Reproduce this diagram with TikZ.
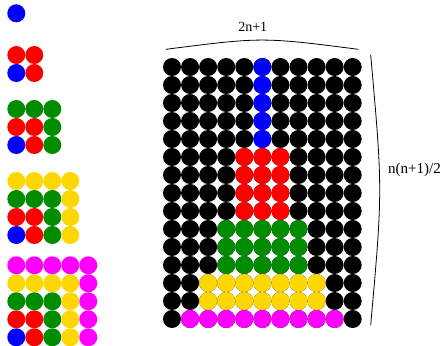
\documentclass[tikz,border=0pt]{standalone}
\usepackage{fontspec}
\setmainfont{Liberation Serif}
\usetikzlibrary{calc}
\definecolor{bead1}{RGB}{0,0,255}
\definecolor{bead2}{RGB}{255,0,0}
\definecolor{bead3}{RGB}{0,140,0}
\definecolor{bead4}{RGB}{255,215,0}
\definecolor{bead5}{RGB}{255,0,255}

\begin{document}
\begin{tikzpicture}[x=1pt,y=-1pt,line cap=round,
  lbl/.style={inner sep=0pt,font=\fontsize{14}{16}\selectfont}]
\useasboundingbox (0,0) rectangle (440,346);
% left: the squares 1x1 ... 5x5
\foreach \n/\top in {1/13.3,2/55,3/109,4/181,5/265.3}{
 \foreach \i in {1,...,\n}{
  \foreach \j in {1,...,\n}{
   \pgfmathtruncatemacro\k{max(\n+1-\i,\j)}
   \fill[bead\k] ({16.3+18*(\j-1)},{\top+18*(\i-1)}) circle (9pt);}}}
% right: the (2n+1) x n(n+1)/2 block
\foreach \r in {0,...,14}
 \foreach \c in {0,...,10}
  \fill[black] ({172+18.07*\c},{67+18*\r}) circle (9pt);
\foreach \k/\rlo/\rhi/\clo/\chi in {1/0/4/5/5,2/5/8/4/6,3/9/11/3/7,
 4/12/13/2/8,5/14/14/1/9}{
 \foreach \r in {\rlo,...,\rhi}
  \foreach \c in {\clo,...,\chi}
   \fill[bead\k] ({172+18.07*\c},{67+18*\r}) circle (9pt);}
% braces
\draw[line width=0.8pt] (166,49.3) .. controls (262,37) .. (358.3,49.3);
\node[lbl] (width) at (252.8,27) {2n+1};
\draw[line width=0.8pt] (370.7,55) .. controls (382.7,190) .. (370.7,325);
\node[lbl,font=\fontsize{15}{17}\selectfont] (height) at (414.5,169.5) {n(n+1)/2};
\end{tikzpicture}
\end{document}
